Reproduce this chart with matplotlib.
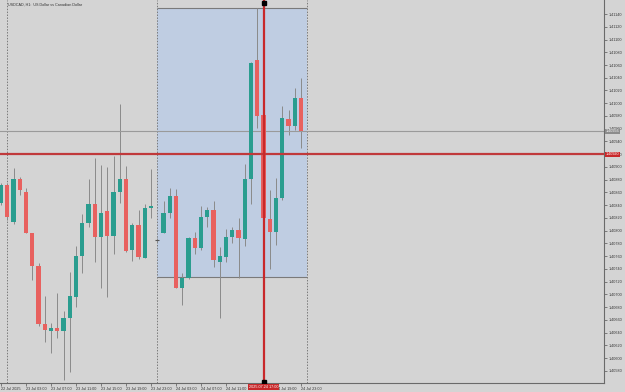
import matplotlib
matplotlib.use("Agg")
import matplotlib.pyplot as plt
from matplotlib.patches import Rectangle
import numpy as np

plt.rcParams['font.family'] = ['Liberation Sans', 'DejaVu Sans']

# ---- data (H1 candles, 22 Jul 23:00 -> 24 Jul 23:00) ----
opens = [1.40844, 1.40872, 1.40814, 1.40881, 1.40861, 1.40796, 1.40745, 1.40654, 1.40643, 1.40647,
         1.40643, 1.40663, 1.40696, 1.40760, 1.40812, 1.40842, 1.40790, 1.40831, 1.40792, 1.40861,
         1.40881, 1.40770, 1.40809, 1.40757, 1.40836, 1.40785, 1.40796, 1.40828, 1.40855, 1.40710,
         1.40726, 1.40789, 1.40773, 1.40822, 1.40833, 1.40751, 1.40759, 1.40790, 1.40801, 1.40787,
         1.40881, 1.41068, 1.40982, 1.40818, 1.40798, 1.40851, 1.40975, 1.40964, 1.41008]
highs = [1.40875, 1.40875, 1.40898, 1.40884, 1.40867, 1.40796, 1.40749, 1.40698, 1.40655, 1.40702,
         1.40674, 1.40735, 1.40776, 1.40826, 1.40881, 1.40914, 1.40903, 1.40900, 1.40917, 1.40999,
         1.40902, 1.40812, 1.40833, 1.40842, 1.40897, 1.40789, 1.40847, 1.40867, 1.40865, 1.40734,
         1.40790, 1.40798, 1.40839, 1.40837, 1.40847, 1.40774, 1.40803, 1.40806, 1.40820, 1.40905,
         1.41065, 1.41149, 1.40986, 1.40864, 1.40883, 1.40996, 1.40989, 1.41024, 1.41040]
lows = [1.40840, 1.40817, 1.40811, 1.40856, 1.40796, 1.40723, 1.40651, 1.40625, 1.40608, 1.40632,
        1.40566, 1.40578, 1.40680, 1.40734, 1.40806, 1.40751, 1.40710, 1.40696, 1.40764, 1.40844,
        1.40767, 1.40753, 1.40756, 1.40757, 1.40820, 1.40782, 1.40796, 1.40820, 1.40710, 1.40684,
        1.40724, 1.40764, 1.40770, 1.40806, 1.40743, 1.40663, 1.40751, 1.40781, 1.40726, 1.40776,
        1.40842, 1.40961, 1.40817, 1.40740, 1.40778, 1.40848, 1.40950, 1.40958, 1.40930]
closes = [1.40872, 1.40822, 1.40881, 1.40864, 1.40796, 1.40745, 1.40654, 1.40644, 1.40647, 1.40643,
          1.40663, 1.40698, 1.40760, 1.40812, 1.40842, 1.40790, 1.40828, 1.40792, 1.40861, 1.40881,
          1.40768, 1.40809, 1.40759, 1.40836, 1.40839, 1.40785, 1.40828, 1.40855, 1.40710, 1.40726,
          1.40789, 1.40773, 1.40822, 1.40833, 1.40754, 1.40760, 1.40790, 1.40801, 1.40789, 1.40881,
          1.41063, 1.40980, 1.40820, 1.40798, 1.40851, 1.40977, 1.40964, 1.41008, 1.40956]

y_ticks = [1.40580, 1.40600, 1.40620, 1.40640, 1.40660, 1.40680, 1.40700, 1.40720, 1.40740, 1.40760,
           1.40780, 1.40800, 1.40820, 1.40840, 1.40860, 1.40880, 1.40900, 1.40920, 1.40940, 1.40960,
           1.40980, 1.41000, 1.41020, 1.41040, 1.41060, 1.41080, 1.41100, 1.41120, 1.41140]
x_tick_idx = [0, 4, 8, 12, 16, 20, 24, 28, 32, 36, 40, 44, 48]
x_tick_labels = ["22 Jul 2025", "23 Jul 03:00", "23 Jul 07:00", "23 Jul 11:00", "23 Jul 15:00",
                 "23 Jul 19:00", "23 Jul 23:00", "24 Jul 03:00", "24 Jul 07:00", "24 Jul 11:00",
                 "24 Jul 15:00", "24 Jul 19:00", "24 Jul 23:00"]
separators = [1, 25, 49]
rect_start, rect_end = 25, 49
rect_top, rect_bottom = 1.41149, 1.40727
hline_price = 1.40920
bid_price = 1.40956
vline_idx = 42
vline_label = "2025.07.24 17:00"
title = "USDCAD, H1:  US Dollar vs Canadian Dollar"

BG = "#d4d4d4"
UP = "#2a9d8f"
DN = "#e8615f"
FS = 2.7

fig = plt.figure(figsize=(6.25, 3.92), dpi=100, facecolor=BG)
ax = fig.add_axes([0, 1 - 383 / 392, 604 / 625, 383 / 392])
ax.set_facecolor(BG)
ax.set_xlim(-0.16, 96.48)
ax.set_ylim(1.40561, 1.41162)

# rectangle object
ax.add_patch(Rectangle((rect_start, rect_bottom), rect_end - rect_start, rect_top - rect_bottom,
                       facecolor="#bfcde2", edgecolor="none", zorder=1))
ax.hlines([rect_top, rect_bottom], rect_start, rect_end, color="#7a7a7a", lw=0.8, zorder=1.5)

# period separators
for s in separators:
    ax.axvline(s, color="#7a7a7a", lw=0.7, ls=(0, (1.5, 1.5)), zorder=1.6)

x = np.arange(len(opens))
o = np.array(opens); h = np.array(highs); l = np.array(lows); c = np.array(closes)
ax.vlines(x, l, h, color="#8a8a8a", lw=0.7, zorder=2)
up = c >= o
colors = np.where(up, UP, DN)
body_h = np.abs(c - o)
ax.bar(x, body_h, bottom=np.minimum(o, c), width=0.66, color=colors, linewidth=0, zorder=3)
doji = body_h < 1e-6
ax.hlines(o[doji], x[doji] - 0.33, x[doji] + 0.33, color="#555555", lw=0.8, zorder=3)

# bid line and horizontal red line
ax.axhline(bid_price, color="#9a9a9a", lw=0.8, zorder=2.5)
ax.axhline(hline_price, color="#c0393b", lw=1.6, zorder=4)
# vertical red line
ax.axvline(vline_idx, color="#c8282a", lw=1.6, zorder=4)
ax.plot([vline_idx, vline_idx], [1.41160 - 0.00002, 1.40562], ls="none", marker="s",
        ms=3, color="black", zorder=5, clip_on=False)

# axes styling
for side in ["top", "left"]:
    ax.spines[side].set_visible(False)
ax.spines["right"].set_color("#6a6a6a")
ax.spines["bottom"].set_color("#6a6a6a")
ax.spines["right"].set_linewidth(0.8)
ax.spines["bottom"].set_linewidth(0.8)
ax.yaxis.tick_right()
ax.set_yticks(y_ticks)
ax.set_yticklabels([f"{v:.5f}" for v in y_ticks])
ax.tick_params(axis="y", direction="out", length=2, width=0.5, color="#555555",
               labelsize=FS, labelcolor="#333333", pad=1.0)
ax.set_xticks(x_tick_idx)
ax.set_xticklabels(x_tick_labels)
ax.tick_params(axis="x", direction="out", length=2, width=0.5, color="#555555",
               labelsize=FS, labelcolor="#333333", pad=0.8)
for lab in ax.get_xticklabels():
    lab.set_horizontalalignment("left")

# axis price labels
ax.text(1.0025, bid_price, f"{bid_price:.5f}", transform=ax.get_yaxis_transform(), fontsize=FS,
        color="white", va="center", ha="left",
        bbox=dict(boxstyle="square,pad=0.15", fc="#8c8c8c", ec="none"), zorder=6, clip_on=False)
ax.text(1.0025, hline_price, f"{hline_price:.5f}", transform=ax.get_yaxis_transform(), fontsize=FS,
        color="white", va="center", ha="left",
        bbox=dict(boxstyle="square,pad=0.15", fc="#c8282a", ec="none"), zorder=6, clip_on=False)
ax.text(vline_idx, -0.005, vline_label, transform=ax.get_xaxis_transform(), fontsize=FS,
        color="white", va="top", ha="center",
        bbox=dict(boxstyle="square,pad=0.25", fc="#c8282a", ec="none"), zorder=6, clip_on=False)

# title
fig.text(8 / 625, 1 - 5 / 392, title, fontsize=FS, color="#333333", va="center", ha="left")

fig.savefig("out.png", dpi=100, facecolor=BG)
